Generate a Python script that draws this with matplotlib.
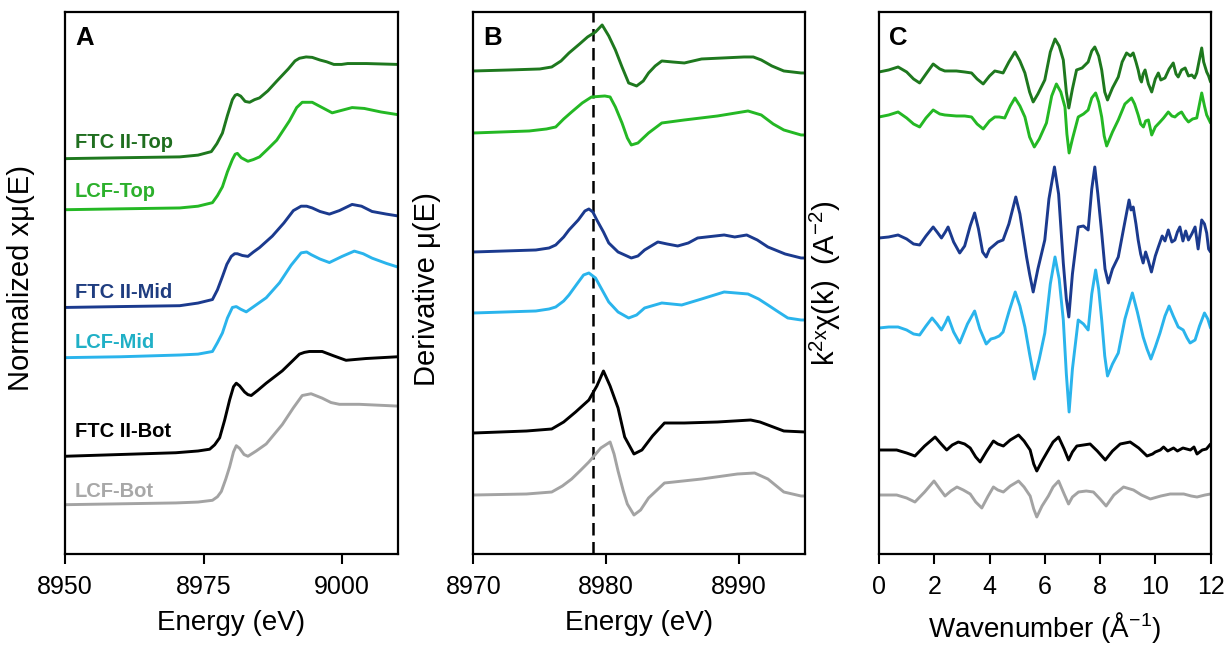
import matplotlib
matplotlib.use("Agg")
import matplotlib.pyplot as plt

plt.rcParams['font.family'] = ['Liberation Sans', 'DejaVu Sans']
plt.rcParams['mathtext.fontset'] = 'custom'
plt.rcParams['mathtext.rm'] = 'Liberation Sans'
plt.rcParams['mathtext.it'] = 'Liberation Sans:italic'

# ---------------- Panel A : normalized XANES (stacked) ----------------
eA_ftc_top = [8950, 8960, 8970.7, 8974, 8976.4, 8977.4, 8978.4, 8979.3, 8980.2, 8980.7, 8981.1, 8981.7, 8982.5, 8983.3, 8984.2, 8985.1, 8986.6, 8988.2, 8990.3, 8991.5, 8992.3, 8993.5, 8994.6, 8996, 8997.2, 8998.5, 8999.9, 9001, 9004.4, 9010]
yA_ftc_top = [4.49, 4.50, 4.51, 4.53, 4.57, 4.66, 4.78, 4.98, 5.16, 5.21, 5.22, 5.20, 5.14, 5.13, 5.16, 5.18, 5.26, 5.37, 5.51, 5.60, 5.63, 5.645, 5.64, 5.61, 5.59, 5.56, 5.56, 5.57, 5.57, 5.56]

eA_lcf_top = [8950, 8960, 8970.7, 8974, 8976.6, 8977.5, 8978.4, 8979.3, 8980.2, 8980.7, 8981.1, 8981.8, 8983.0, 8984, 8985.1, 8986.6, 8988.2, 8990.5, 8991.8, 8992.8, 8994.6, 8996.4, 8998.2, 9000, 9001.8, 9004, 9007, 9010]
yA_lcf_top = [3.91, 3.92, 3.93, 3.95, 3.99, 4.07, 4.17, 4.34, 4.48, 4.54, 4.55, 4.50, 4.46, 4.48, 4.51, 4.60, 4.70, 4.92, 5.07, 5.13, 5.13, 5.07, 5.01, 5.04, 5.07, 5.06, 5.02, 4.99]

eA_ftc_mid = [8950, 8960, 8970.7, 8974, 8976.6, 8977.5, 8978.4, 8979.2, 8980.0, 8980.6, 8981.1, 8982, 8983.0, 8984, 8985.1, 8987.4, 8989.5, 8991.2, 8992.6, 8993.6, 8994.6, 8996, 8997.7, 8999.5, 9001.8, 9003.5, 9005.4, 9008, 9010]
yA_ftc_mid = [2.80, 2.81, 2.82, 2.85, 2.89, 3.00, 3.15, 3.29, 3.38, 3.41, 3.41, 3.39, 3.38, 3.43, 3.48, 3.61, 3.76, 3.90, 3.95, 3.95, 3.93, 3.89, 3.86, 3.90, 3.97, 3.95, 3.89, 3.86, 3.84]

eA_lcf_mid = [8950, 8960, 8970.7, 8974, 8976.6, 8977.5, 8978.4, 8979.3, 8980.2, 8980.9, 8981.7, 8982.7, 8984.5, 8986.3, 8988.7, 8990.8, 8992.6, 8993.6, 8994.4, 8996, 8997.7, 9000, 9002.2, 9003.8, 9005.4, 9008, 9010]
yA_lcf_mid = [2.23, 2.24, 2.26, 2.27, 2.30, 2.40, 2.51, 2.68, 2.80, 2.81, 2.78, 2.75, 2.83, 2.91, 3.08, 3.28, 3.42, 3.43, 3.40, 3.35, 3.31, 3.38, 3.44, 3.41, 3.36, 3.30, 3.26]

eA_ftc_bot = [8950, 8960, 8970, 8974, 8976.1, 8977.0, 8977.9, 8978.8, 8979.7, 8980.4, 8980.9, 8981.5, 8982.4, 8983.0, 8983.6, 8984.8, 8986.3, 8989.2, 8991, 8992.3, 8993.2, 8994.1, 8996.4, 8998.5, 9000.7, 9002.5, 9004.3, 9010]
yA_ftc_bot = [1.11, 1.13, 1.15, 1.17, 1.19, 1.24, 1.32, 1.52, 1.75, 1.90, 1.94, 1.91, 1.84, 1.81, 1.80, 1.86, 1.94, 2.08, 2.19, 2.27, 2.29, 2.30, 2.30, 2.25, 2.20, 2.21, 2.22, 2.24]

eA_lcf_bot = [8950, 8960, 8970, 8974, 8976.6, 8977.5, 8978.2, 8979.0, 8979.7, 8980.4, 8980.9, 8981.5, 8982.3, 8983.0, 8984.5, 8986.3, 8989.2, 8991.2, 8992.8, 8994.4, 8996.4, 8998, 8999.5, 9003.1, 9010]
yA_lcf_bot = [0.56, 0.57, 0.58, 0.59, 0.61, 0.65, 0.71, 0.85, 0.99, 1.16, 1.23, 1.20, 1.13, 1.11, 1.17, 1.25, 1.47, 1.66, 1.80, 1.82, 1.77, 1.72, 1.70, 1.70, 1.68]

# ---------------- Panel B : derivative (stacked) ----------------
eB_ftc_top = [8970, 8972.7, 8975, 8975.9, 8976.6, 8977.2, 8978.0, 8978.6, 8979.2, 8979.7, 8980.2, 8980.7, 8981.2, 8981.7, 8982.3, 8982.8, 8983.2, 8983.7, 8984.2, 8985.0, 8985.9, 8987.2, 8988.8, 8990.4, 8991.1, 8991.7, 8992.5, 8993.4, 8994.7, 8995]
yB_ftc_top = [4.83, 4.84, 4.85, 4.87, 4.93, 5.01, 5.10, 5.17, 5.22, 5.29, 5.18, 5.04, 4.87, 4.71, 4.68, 4.73, 4.81, 4.88, 4.93, 4.92, 4.91, 4.95, 4.96, 4.97, 4.97, 4.94, 4.88, 4.83, 4.81, 4.81]

eB_lcf_top = [8970, 8974.2, 8975.5, 8976.2, 8976.8, 8977.4, 8978.2, 8978.9, 8979.9, 8980.3, 8980.7, 8981.2, 8981.6, 8981.9, 8982.4, 8983.2, 8984.2, 8985.9, 8988.4, 8990.7, 8991.7, 8992.6, 8993.4, 8994.7, 8995]
yB_lcf_top = [4.21, 4.23, 4.25, 4.27, 4.35, 4.42, 4.51, 4.57, 4.58, 4.57, 4.47, 4.31, 4.16, 4.09, 4.11, 4.21, 4.31, 4.34, 4.38, 4.43, 4.39, 4.30, 4.24, 4.19, 4.19]

eB_ftc_mid = [8970, 8974.7, 8975.7, 8976.2, 8976.8, 8977.2, 8977.9, 8978.4, 8978.7, 8979.0, 8979.3, 8979.8, 8980.2, 8980.9, 8981.9, 8982.4, 8982.9, 8983.9, 8984.6, 8985.4, 8986.2, 8986.9, 8988.9, 8989.7, 8990.6, 8991.4, 8992.2, 8993.5, 8994.7, 8995]
yB_ftc_mid = [3.02, 3.04, 3.06, 3.09, 3.17, 3.24, 3.34, 3.43, 3.45, 3.42, 3.34, 3.22, 3.11, 3.02, 2.96, 2.98, 3.04, 3.12, 3.10, 3.08, 3.11, 3.16, 3.19, 3.17, 3.19, 3.14, 3.07, 3.00, 2.96, 2.96]

eB_lcf_mid = [8970, 8974.7, 8975.7, 8976.2, 8976.8, 8977.2, 8977.8, 8978.3, 8978.7, 8979.2, 8979.7, 8980.2, 8980.9, 8981.7, 8982.3, 8982.9, 8984.2, 8985.7, 8987.2, 8988.9, 8989.8, 8990.7, 8991.5, 8992.2, 8993.0, 8993.7, 8994.7, 8995]
yB_lcf_mid = [2.41, 2.43, 2.45, 2.47, 2.53, 2.59, 2.70, 2.79, 2.81, 2.76, 2.64, 2.52, 2.42, 2.36, 2.39, 2.46, 2.51, 2.49, 2.55, 2.62, 2.61, 2.60, 2.55, 2.49, 2.42, 2.36, 2.34, 2.34]

eB_ftc_bot = [8970, 8974, 8975.9, 8976.8, 8977.7, 8978.7, 8979.3, 8979.8, 8980.3, 8980.9, 8981.4, 8982.1, 8982.7, 8983.5, 8984.4, 8985.9, 8988.4, 8990.9, 8991.6, 8992.2, 8993.4, 8995]
yB_ftc_bot = [1.21, 1.23, 1.25, 1.32, 1.42, 1.54, 1.68, 1.83, 1.68, 1.46, 1.17, 1.00, 1.04, 1.18, 1.31, 1.31, 1.32, 1.34, 1.32, 1.29, 1.23, 1.22]

eB_lcf_bot = [8970, 8974, 8975.9, 8976.7, 8977.4, 8978.1, 8978.7, 8979.6, 8980.3, 8980.6, 8980.9, 8981.3, 8981.6, 8982.1, 8982.6, 8983.2, 8984.4, 8985.8, 8987.2, 8989.9, 8991.2, 8992.2, 8993.4, 8994.7, 8995]
yB_lcf_bot = [0.59, 0.60, 0.62, 0.68, 0.75, 0.84, 0.92, 1.06, 1.12, 1.00, 0.83, 0.63, 0.50, 0.39, 0.44, 0.56, 0.71, 0.73, 0.75, 0.80, 0.81, 0.75, 0.62, 0.58, 0.58]

e0_line = 8979.0

# ---------------- Panel C : k2-weighted EXAFS (stacked) ----------------
kC_ftc_top = [0, 0.35, 0.69, 1.0, 1.25, 1.47, 1.7, 1.96, 2.2, 2.38, 2.8, 3.1, 3.35, 3.55, 3.77, 4.0, 4.19, 4.35, 4.49, 4.7, 4.92, 5.1, 5.28, 5.45, 5.58, 5.75, 6.0, 6.2, 6.37, 6.52, 6.67, 6.78, 6.87, 7.0, 7.15, 7.35, 7.57, 7.7, 7.81, 7.95, 8.06, 8.17, 8.27, 8.45, 8.66, 8.8, 8.96, 9.1, 9.2, 9.3, 9.38, 9.45, 9.5, 9.56, 9.63, 9.75, 9.87, 10.0, 10.11, 10.2, 10.35, 10.5, 10.65, 10.75, 10.83, 10.95, 11.08, 11.2, 11.32, 11.42, 11.5, 11.6, 11.68, 11.75, 11.86, 11.93, 12.0]
yC_ftc_top = [4.82, 4.84, 4.87, 4.82, 4.75, 4.71, 4.80, 4.90, 4.85, 4.83, 4.83, 4.82, 4.81, 4.75, 4.70, 4.78, 4.83, 4.82, 4.81, 4.92, 5.02, 4.93, 4.81, 4.62, 4.52, 4.60, 4.74, 5.02, 5.15, 5.08, 4.94, 4.62, 4.46, 4.65, 4.84, 4.86, 4.92, 5.03, 5.07, 4.98, 4.84, 4.62, 4.54, 4.66, 4.77, 4.92, 5.01, 4.98, 5.01, 4.92, 4.84, 4.75, 4.72, 4.80, 4.84, 4.70, 4.62, 4.75, 4.81, 4.74, 4.76, 4.85, 4.91, 4.80, 4.77, 4.84, 4.86, 4.78, 4.79, 4.76, 4.81, 4.95, 5.06, 4.92, 4.82, 4.78, 4.72]

kC_lcf_top = [0, 0.35, 0.69, 1.0, 1.25, 1.47, 1.7, 1.96, 2.2, 2.38, 2.8, 3.1, 3.35, 3.55, 3.77, 4.0, 4.19, 4.35, 4.55, 4.75, 4.92, 5.1, 5.28, 5.45, 5.62, 5.8, 6.06, 6.25, 6.42, 6.58, 6.73, 6.8, 6.88, 7.0, 7.21, 7.4, 7.57, 7.7, 7.84, 7.95, 8.06, 8.15, 8.24, 8.45, 8.66, 8.9, 9.14, 9.25, 9.38, 9.47, 9.57, 9.65, 9.75, 9.87, 10.0, 10.17, 10.3, 10.47, 10.6, 10.71, 10.83, 10.95, 11.08, 11.2, 11.35, 11.5, 11.6, 11.68, 11.78, 11.86, 12.0]
yC_lcf_top = [4.37, 4.39, 4.42, 4.36, 4.30, 4.27, 4.36, 4.44, 4.40, 4.39, 4.38, 4.38, 4.37, 4.30, 4.25, 4.33, 4.37, 4.37, 4.36, 4.48, 4.56, 4.48, 4.37, 4.17, 4.07, 4.15, 4.31, 4.58, 4.70, 4.62, 4.47, 4.20, 4.01, 4.15, 4.37, 4.40, 4.44, 4.56, 4.61, 4.52, 4.37, 4.18, 4.08, 4.22, 4.34, 4.50, 4.56, 4.50, 4.39, 4.30, 4.27, 4.33, 4.34, 4.19, 4.27, 4.32, 4.36, 4.42, 4.38, 4.37, 4.40, 4.42, 4.36, 4.32, 4.35, 4.36, 4.50, 4.61, 4.48, 4.39, 4.31]

kC_ftc_mid = [0, 0.35, 0.69, 1.0, 1.25, 1.47, 1.7, 1.96, 2.1, 2.26, 2.4, 2.5, 2.7, 2.92, 3.1, 3.3, 3.46, 3.6, 3.75, 3.88, 4.0, 4.13, 4.3, 4.49, 4.7, 4.95, 5.1, 5.34, 5.45, 5.58, 5.75, 6.0, 6.15, 6.35, 6.5, 6.67, 6.78, 6.87, 7.0, 7.21, 7.4, 7.57, 7.7, 7.81, 7.92, 8.06, 8.18, 8.3, 8.45, 8.66, 8.85, 9.05, 9.12, 9.2, 9.3, 9.38, 9.47, 9.56, 9.65, 9.75, 9.86, 10.0, 10.11, 10.25, 10.35, 10.47, 10.6, 10.71, 10.8, 10.89, 11.0, 11.1, 11.2, 11.32, 11.44, 11.55, 11.68, 11.78, 11.86, 11.93, 12.0]
yC_ftc_mid = [3.16, 3.17, 3.19, 3.15, 3.10, 3.09, 3.18, 3.27, 3.22, 3.16, 3.22, 3.27, 3.12, 3.01, 3.08, 3.28, 3.41, 3.25, 3.02, 2.97, 3.05, 3.08, 3.12, 3.14, 3.30, 3.57, 3.40, 2.97, 2.80, 2.62, 2.85, 3.14, 3.55, 3.87, 3.60, 2.91, 2.55, 2.37, 2.80, 3.27, 3.28, 3.24, 3.65, 3.87, 3.60, 3.21, 2.85, 2.71, 2.85, 2.97, 3.25, 3.54, 3.44, 3.47, 3.30, 3.14, 3.00, 2.91, 3.02, 2.93, 2.82, 2.98, 3.07, 3.18, 3.13, 3.24, 3.12, 3.14, 3.22, 3.27, 3.13, 3.23, 3.14, 3.20, 3.27, 3.05, 3.34, 3.30, 3.21, 3.05, 3.02]

kC_lcf_mid = [0, 0.35, 0.69, 1.0, 1.25, 1.47, 1.7, 1.92, 2.1, 2.26, 2.4, 2.5, 2.7, 2.92, 3.2, 3.46, 3.65, 3.88, 4.05, 4.19, 4.35, 4.49, 4.7, 4.93, 5.1, 5.28, 5.45, 5.62, 5.8, 6.0, 6.2, 6.37, 6.52, 6.67, 6.78, 6.88, 7.0, 7.21, 7.4, 7.57, 7.7, 7.84, 7.95, 8.06, 8.17, 8.27, 8.45, 8.66, 8.9, 9.17, 9.35, 9.56, 9.7, 9.84, 10.0, 10.17, 10.35, 10.5, 10.65, 10.83, 11.01, 11.15, 11.26, 11.44, 11.6, 11.78, 11.9, 12.0]
yC_lcf_mid = [2.26, 2.27, 2.27, 2.24, 2.20, 2.19, 2.28, 2.36, 2.30, 2.24, 2.31, 2.37, 2.22, 2.11, 2.30, 2.43, 2.25, 2.10, 2.15, 2.16, 2.18, 2.22, 2.42, 2.62, 2.48, 2.27, 2.00, 1.75, 1.95, 2.21, 2.70, 2.97, 2.75, 2.34, 1.80, 1.42, 1.85, 2.34, 2.30, 2.24, 2.60, 2.84, 2.65, 2.34, 1.98, 1.78, 1.90, 2.01, 2.35, 2.61, 2.42, 2.17, 2.05, 1.95, 2.07, 2.21, 2.38, 2.48, 2.38, 2.27, 2.24, 2.16, 2.11, 2.14, 2.28, 2.41, 2.35, 2.26]

kC_ftc_bot = [0, 0.64, 1.0, 1.3, 1.65, 2.03, 2.25, 2.45, 2.65, 2.87, 3.1, 3.3, 3.5, 3.66, 3.9, 4.14, 4.3, 4.5, 4.75, 5.05, 5.25, 5.47, 5.6, 5.71, 5.9, 6.13, 6.3, 6.5, 6.7, 6.86, 7.0, 7.16, 7.4, 7.64, 7.9, 8.19, 8.45, 8.73, 9.09, 9.4, 9.7, 9.9, 10.0, 10.18, 10.3, 10.45, 10.66, 10.8, 11.0, 11.27, 11.4, 11.51, 11.7, 11.85, 12.0]
yC_ftc_bot = [1.04, 1.04, 1.01, 0.98, 1.08, 1.17, 1.10, 1.04, 1.09, 1.12, 1.10, 1.06, 0.97, 0.92, 1.03, 1.13, 1.10, 1.08, 1.14, 1.19, 1.13, 1.04, 0.90, 0.83, 0.93, 1.04, 1.12, 1.17, 1.05, 0.94, 1.02, 1.08, 1.09, 1.10, 1.03, 0.94, 1.03, 1.10, 1.12, 1.06, 0.98, 1.00, 1.02, 1.04, 1.07, 1.03, 1.06, 1.03, 1.06, 1.04, 1.07, 1.00, 1.04, 1.05, 1.10]

kC_lcf_bot = [0, 0.64, 1.0, 1.3, 1.65, 1.99, 2.2, 2.39, 2.6, 2.82, 3.05, 3.3, 3.5, 3.72, 3.95, 4.14, 4.3, 4.5, 4.75, 5.05, 5.25, 5.47, 5.6, 5.71, 5.9, 6.13, 6.3, 6.5, 6.7, 6.86, 7.0, 7.22, 7.5, 7.76, 8.0, 8.22, 8.5, 8.85, 9.21, 9.5, 9.82, 10.2, 10.54, 11.03, 11.3, 11.51, 11.8, 12.0]
yC_lcf_bot = [0.59, 0.59, 0.56, 0.52, 0.62, 0.73, 0.65, 0.58, 0.63, 0.67, 0.64, 0.60, 0.52, 0.46, 0.58, 0.67, 0.64, 0.62, 0.68, 0.73, 0.67, 0.58, 0.45, 0.37, 0.48, 0.58, 0.67, 0.73, 0.60, 0.50, 0.57, 0.62, 0.63, 0.62, 0.55, 0.48, 0.59, 0.67, 0.64, 0.59, 0.55, 0.58, 0.60, 0.60, 0.58, 0.57, 0.59, 0.60]

# ---------------- labels / styling ----------------
series_labels = ["FTC II-Top", "LCF-Top", "FTC II-Mid", "LCF-Mid", "FTC II-Bot", "LCF-Bot"]
label_y = [4.61, 4.05, 2.91, 2.34, 1.33, 0.65]
line_colors = ["#1E781E", "#24B824", "#1B3A8E", "#2AB4EC", "#000000", "#A3A3A3"]
label_colors = ["#1F6E1F", "#2CB02C", "#1F3D80", "#20B0C6", "#000000", "#A8A8A8"]

A_curves = [(eA_ftc_top, yA_ftc_top), (eA_lcf_top, yA_lcf_top), (eA_ftc_mid, yA_ftc_mid),
            (eA_lcf_mid, yA_lcf_mid), (eA_ftc_bot, yA_ftc_bot), (eA_lcf_bot, yA_lcf_bot)]
B_curves = [(eB_ftc_top, yB_ftc_top), (eB_lcf_top, yB_lcf_top), (eB_ftc_mid, yB_ftc_mid),
            (eB_lcf_mid, yB_lcf_mid), (eB_ftc_bot, yB_ftc_bot), (eB_lcf_bot, yB_lcf_bot)]
C_curves = [(kC_ftc_top, yC_ftc_top), (kC_lcf_top, yC_lcf_top), (kC_ftc_mid, yC_ftc_mid),
            (kC_lcf_mid, yC_lcf_mid), (kC_ftc_bot, yC_ftc_bot), (kC_lcf_bot, yC_lcf_bot)]

fig = plt.figure(figsize=(12.27, 6.53), dpi=100)
bottom, height = 0.1516, 0.8293
axA = fig.add_axes([0.0530, bottom, 0.2710, height])
axB = fig.add_axes([0.3859, bottom, 0.2702, height])
axC = fig.add_axes([0.7164, bottom, 0.2702, height])

lw = 2.1
for ax, curves in ((axA, A_curves), (axB, B_curves), (axC, C_curves)):
    for (x, y), c in zip(curves, line_colors):
        ax.plot(x, y, color=c, lw=lw, solid_joinstyle='round', solid_capstyle='round')

axB.axvline(e0_line, color='black', lw=1.8, ls=(0, (5, 2.6)), zorder=0)

axA.set_xlim(8950, 9010)
axA.set_ylim(0, 6.15)
axA.set_xticks([8950, 8975, 9000])
axB.set_xlim(8970, 8995)
axB.set_ylim(0, 5.415)
axB.set_xticks([8970, 8980, 8990])
axC.set_xlim(0, 12)
axC.set_ylim(0, 5.415)
axC.set_xticks([0, 2, 4, 6, 8, 10, 12])

for lab, yv, col in zip(series_labels, label_y, label_colors):
    axA.text(8951.8, yv, lab, color=col, fontsize=14.5, fontweight='bold', ha='left', va='baseline')

for ax, letter in ((axA, "A"), (axB, "B"), (axC, "C")):
    ax.text(0.03, 0.975, letter, transform=ax.transAxes, fontsize=18.5, fontweight='bold',
            ha='left', va='top')
    ax.set_yticks([])
    for s in ax.spines.values():
        s.set_linewidth(1.6)
    ax.tick_params(axis='x', direction='out', length=7, width=1.5, labelsize=18, pad=8)

axA.set_xlabel("Energy (eV)", fontsize=20, labelpad=8)
axB.set_xlabel("Energy (eV)", fontsize=20, labelpad=8)
axC.set_xlabel("Wavenumber (Å$^{-1}$)", fontsize=20, labelpad=8)

axA.set_ylabel("Normalized xμ(E)", fontsize=21)
axB.set_ylabel("Derivative μ(E)", fontsize=21)
axC.set_ylabel("k$^{2}$ˣχ(k)  (A$^{-2}$)", fontsize=21)
axA.yaxis.set_label_coords(-0.09, 0.51)
axB.yaxis.set_label_coords(-0.097, 0.49)
axC.yaxis.set_label_coords(-0.11, 0.50)

fig.savefig("out.png", dpi=100)
